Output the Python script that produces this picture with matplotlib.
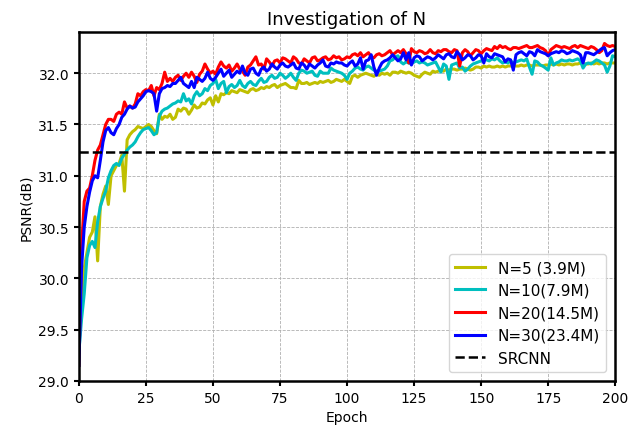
import numpy as np
import matplotlib
matplotlib.use("Agg")
import matplotlib.pyplot as plt
from matplotlib.ticker import FormatStrFormatter

epochs = list(range(0, 201))

psnr_n20 = [
    29.15, 30.3, 30.75, 30.85, 30.88, 31.0, 31.15, 31.25, 31.3, 31.4,
    31.5, 31.55, 31.55, 31.53, 31.6, 31.62, 31.6, 31.72, 31.66, 31.68,
    31.66, 31.7, 31.8, 31.78, 31.82, 31.84, 31.83, 31.88, 31.78, 31.86,
    31.84, 31.9, 32.01, 31.92, 31.95, 31.92, 31.96, 31.98, 31.93, 31.97,
    32.0, 31.96, 32.01, 31.97, 31.91, 31.99, 32.02, 32.09, 32.04, 32.0,
    32.02, 31.99, 32.06, 32.11, 32.07, 32.05, 32.08, 32.02, 32.05, 32.09,
    32.04, 32.02, 31.98, 32.06, 32.08, 32.12, 32.16, 32.08, 32.09, 32.04,
    32.14, 32.11, 32.07, 32.12, 32.13, 32.1, 32.15, 32.14, 32.12, 32.1,
    32.16, 32.14, 32.1, 32.09, 32.14, 32.12, 32.1, 32.15, 32.16, 32.12,
    32.13, 32.15, 32.16, 32.13, 32.14, 32.17, 32.15, 32.16, 32.13, 32.14,
    32.16, 32.15, 32.18, 32.19, 32.17, 32.2, 32.16, 32.18, 32.2, 32.16,
    32.15, 32.18, 32.19, 32.17, 32.18, 32.2, 32.22, 32.18, 32.2, 32.22,
    32.2, 32.23, 32.19, 32.1, 32.24, 32.21, 32.2, 32.22, 32.21, 32.19,
    32.2, 32.23, 32.2, 32.19, 32.22, 32.21, 32.23, 32.23, 32.21, 32.2,
    32.23, 32.22, 32.07, 32.2, 32.23, 32.21, 32.17, 32.2, 32.23, 32.22,
    32.19, 32.22, 32.24, 32.23, 32.22, 32.26, 32.24, 32.27, 32.25, 32.26,
    32.24, 32.23, 32.25, 32.25, 32.24, 32.25, 32.26, 32.27, 32.25, 32.25,
    32.26, 32.27, 32.25, 32.24, 32.22, 32.17, 32.23, 32.25, 32.27, 32.26,
    32.25, 32.26, 32.25, 32.24, 32.26, 32.27, 32.25, 32.27, 32.26, 32.25,
    32.24, 32.26, 32.25, 32.23, 32.2, 32.22, 32.29, 32.27, 32.26, 32.27,
    32.26,
]

psnr_n30 = [
    29.15, 30.1, 30.5, 30.7, 30.84, 30.95, 31.0, 30.98, 31.15, 31.33,
    31.44, 31.47, 31.42, 31.4, 31.46, 31.5, 31.57, 31.6, 31.65, 31.68,
    31.66, 31.67, 31.72, 31.75, 31.78, 31.82, 31.83, 31.82, 31.8, 31.63,
    31.8, 31.85, 31.86, 31.88, 31.87, 31.9, 31.9, 31.93, 31.96, 31.9,
    31.88, 31.86, 31.92, 31.86, 31.96, 31.94, 31.92, 31.95, 32.01, 31.95,
    31.93, 31.96, 32.0, 32.04, 31.97, 32.0, 32.03, 31.96, 31.99, 32.02,
    32.0, 32.07, 32.0, 31.98, 32.04, 32.05, 32.0, 31.98, 32.04, 32.06,
    32.02, 32.04, 32.09, 32.06, 32.04, 32.08, 32.1, 32.07, 32.06, 32.08,
    32.1, 32.05, 32.04, 32.1, 32.08, 32.04, 32.09, 32.07, 32.05, 32.08,
    32.1, 32.13, 32.07, 32.06, 32.1, 32.09, 32.11, 32.1, 32.1, 32.08,
    32.07, 32.1, 32.12, 32.07, 32.09, 32.15, 32.04, 32.12, 32.13, 32.18,
    32.06, 31.98, 32.05, 32.1, 32.12, 32.13, 32.15, 32.18, 32.15, 32.12,
    32.14, 32.2, 32.13, 32.2, 32.08, 32.15, 32.17, 32.16, 32.12, 32.14,
    32.16, 32.15, 32.13, 32.15, 32.18, 32.16, 32.14, 32.18, 32.19, 32.16,
    32.15, 32.21, 32.18, 32.13, 32.15, 32.18, 32.17, 32.13, 32.15, 32.18,
    32.17, 32.1, 32.19, 32.16, 32.15, 32.19, 32.18, 32.17, 32.16, 32.11,
    32.14, 32.13, 32.03, 32.18, 32.2, 32.21, 32.19, 32.17, 32.21, 32.2,
    32.17, 32.23, 32.21, 32.2, 32.19, 32.17, 32.19, 32.2, 32.21, 32.2,
    32.22, 32.21, 32.19, 32.2, 32.22, 32.21, 32.2, 32.18, 32.1, 32.2,
    32.2, 32.19, 32.18, 32.2, 32.22, 32.24, 32.25, 32.17, 32.2, 32.22,
    32.23,
]

psnr_n10 = [
    29.28, 29.6, 29.85, 30.2, 30.32, 30.36, 30.3, 30.55, 30.7, 30.78,
    30.85, 30.98, 31.05, 31.1, 31.12, 31.1, 31.17, 31.21, 31.25, 31.28,
    31.3, 31.33, 31.38, 31.42, 31.45, 31.46, 31.47, 31.44, 31.4, 31.42,
    31.58, 31.63, 31.65, 31.66, 31.68, 31.7, 31.71, 31.73, 31.72, 31.8,
    31.73, 31.75, 31.7, 31.78, 31.82, 31.78, 31.8, 31.85, 31.83, 31.88,
    31.9, 31.94, 31.85, 31.9, 31.92, 31.81, 31.87, 31.89, 31.86, 31.88,
    31.93, 31.88, 31.86, 31.9, 31.92, 31.89, 31.88, 31.92, 31.95, 31.91,
    31.92, 31.96, 31.98, 31.95, 31.96, 32.0, 31.98, 31.95, 31.97, 32.0,
    31.96, 31.93, 32.0, 32.03, 32.02, 32.0, 32.01, 32.02, 31.98, 31.97,
    32.02, 32.0, 32.0, 32.0, 32.05, 32.03, 32.02, 32.01, 32.0, 31.98,
    31.94, 32.0, 32.02, 32.05, 32.06, 32.04, 32.03, 32.06, 32.07, 32.05,
    32.03, 32.02, 32.02, 32.03, 32.04, 32.07, 32.12, 32.13, 32.16, 32.17,
    32.11, 32.09, 32.11, 32.1, 32.09, 32.11, 32.12, 32.1, 32.11, 32.1,
    32.08, 32.09, 32.1, 32.11, 32.06, 32.01, 32.09, 32.07, 31.94, 32.08,
    32.09, 32.1, 32.05, 32.06, 32.02, 32.04, 32.07, 32.09, 32.1, 32.11,
    32.12, 32.14, 32.13, 32.12, 32.14, 32.13, 32.15, 32.12, 32.1, 32.11,
    32.1, 32.12, 32.1, 32.11, 32.12, 32.13, 32.12, 32.14, 32.06, 31.99,
    32.12, 32.11, 32.08, 32.07, 32.05, 32.03, 32.15, 32.08, 32.1, 32.11,
    32.13, 32.12, 32.12, 32.13, 32.12, 32.13, 32.14, 32.12, 32.05, 32.09,
    32.1, 32.09, 32.11, 32.13, 32.12, 32.1, 32.08, 32.01, 32.07, 32.17,
    32.16,
]

psnr_n5 = [
    29.35, 29.7, 30.1, 30.25, 30.4, 30.45, 30.6, 30.17, 30.7, 30.82,
    30.9, 30.72, 31.0, 31.05, 31.1, 31.12, 31.2, 30.85, 31.35, 31.4,
    31.43, 31.45, 31.48, 31.47, 31.46, 31.48, 31.5, 31.48, 31.44, 31.41,
    31.6, 31.55, 31.58, 31.57, 31.6, 31.55, 31.57, 31.65, 31.63, 31.66,
    31.65, 31.6, 31.64, 31.69, 31.66, 31.67, 31.71, 31.7, 31.74, 31.76,
    31.69, 31.78, 31.72, 31.8, 31.79, 31.81, 31.8, 31.83, 31.82, 31.81,
    31.84, 31.83, 31.82, 31.81, 31.84, 31.85, 31.83, 31.84, 31.86, 31.85,
    31.87, 31.86, 31.88, 31.89, 31.86, 31.88, 31.89, 31.9, 31.88, 31.86,
    31.86, 31.85, 31.93, 31.9, 31.9, 31.91, 31.89, 31.9, 31.91, 31.9,
    31.92, 31.91, 31.92, 31.93, 31.91, 31.92, 31.94, 31.93, 31.92, 31.94,
    31.92, 31.9, 31.97, 31.98, 31.96, 31.98, 31.99, 32.0, 31.99, 31.98,
    31.97, 31.99, 31.98, 32.0, 31.99, 32.0, 31.98, 32.01, 32.01, 32.0,
    32.02, 32.01, 32.0, 32.01, 32.0, 31.98, 31.97, 31.96, 31.99, 32.01,
    32.0, 31.99, 32.02, 32.01, 32.02, 32.03, 32.02, 32.04, 32.03, 32.04,
    32.04, 32.03, 32.04, 32.04, 32.05, 32.04, 32.03, 32.04, 32.06, 32.06,
    32.05, 32.07, 32.06, 32.07, 32.06, 32.06, 32.07, 32.06, 32.07, 32.06,
    32.07, 32.07, 32.08, 32.07, 32.07, 32.08, 32.07, 32.08, 32.08, 32.07,
    32.08, 32.08, 32.08, 32.07, 32.08, 32.08, 32.09, 32.08, 32.09, 32.08,
    32.09, 32.08, 32.09, 32.09, 32.08, 32.09, 32.09, 32.1, 32.09, 32.09,
    32.09, 32.1, 32.09, 32.1, 32.09, 32.1, 32.1, 32.09, 32.1, 32.1,
    32.1,
]

srcnn_psnr = 31.23

labels = ["N=5 (3.9M)", "N=10(7.9M)", "N=20(14.5M)", "N=30(23.4M)", "SRCNN"]

fig = plt.figure(figsize=(6.31, 4.31), dpi=100)
ax = fig.add_axes([0.125, 0.114, 0.85, 0.809])

ax.plot(epochs, psnr_n5, color='y', lw=2.2, label=labels[0])
ax.plot(epochs, psnr_n10, color='c', lw=2.2, label=labels[1])
ax.plot(epochs, psnr_n20, color='r', lw=2.2, label=labels[2])
ax.plot(epochs, psnr_n30, color='b', lw=2.2, label=labels[3])
ax.axhline(srcnn_psnr, color='k', ls='--', lw=1.8, label=labels[4])

ax.set_xlim(0, 200)
ax.set_ylim(29.0, 32.4)
ax.set_xticks(np.arange(0, 201, 25))
ax.set_yticks(np.arange(29.0, 32.01, 0.5))
ax.yaxis.set_major_formatter(FormatStrFormatter('%.1f'))
ax.grid(True, ls='--', lw=0.6, color='#b0b0b0')
ax.set_axisbelow(True)
for s in ax.spines.values():
    s.set_linewidth(1.8)
ax.tick_params(labelsize=10, width=1.5)
ax.set_xlabel("Epoch", fontsize=10)
ax.set_ylabel("PSNR(dB)", fontsize=10)
ax.set_title("Investigation of N", fontsize=13)
ax.legend(loc='lower right', fontsize=11, borderaxespad=0.6)

fig.savefig("out.png", dpi=100)
